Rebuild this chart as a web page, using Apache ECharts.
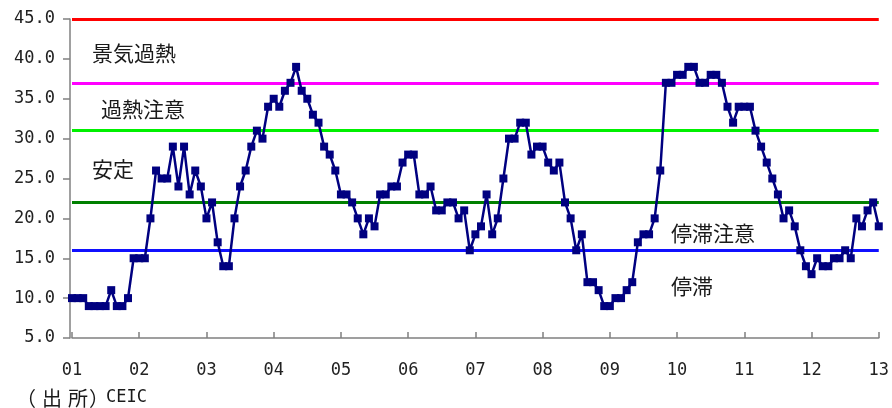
<!DOCTYPE html>
<html>
<head>
<meta charset="utf-8">
<script src="https://cdn.jsdelivr.net/npm/echarts@6/dist/echarts.min.js"></script>
<style>
  html, body { margin: 0; padding: 0; background: #ffffff; }
  #chart { width: 892px; height: 408px; }
</style>
</head>
<body>
<div id="chart"></div>
<script>
// Monthly index values, January of each year starts a new row
const y2001 = [10, 10, 10, 9, 9, 9, 9, 11, 9, 9, 10, 15];
const y2002 = [15, 15, 20, 26, 25, 25, 29, 24, 29, 23, 26, 24];
const y2003 = [20, 22, 17, 14, 14, 20, 24, 26, 29, 31, 30, 34];
const y2004 = [35, 34, 36, 37, 39, 36, 35, 33, 32, 29, 28, 26];
const y2005 = [23, 23, 22, 20, 18, 20, 19, 23, 23, 24, 24, 27];
const y2006 = [28, 28, 23, 23, 24, 21, 21, 22, 22, 20, 21, 16];
const y2007 = [18, 19, 23, 18, 20, 25, 30, 30, 32, 32, 28, 29];
const y2008 = [29, 27, 26, 27, 22, 20, 16, 18, 12, 12, 11, 9];
const y2009 = [9, 10, 10, 11, 12, 17, 18, 18, 20, 26, 37, 37];
const y2010 = [38, 38, 39, 39, 37, 37, 38, 38, 37, 34, 32, 34];
const y2011 = [34, 34, 31, 29, 27, 25, 23, 20, 21, 19, 16, 14];
const y2012 = [13, 15, 14, 14, 15, 15, 16, 15, 20, 19, 21, 22];
const y2013 = [19];

const yearLabels = ['01', '02', '03', '04', '05', '06', '07', '08', '09', '10', '11', '12', '13'];

// Threshold levels and zone names
const thresholdValues = [45, 37, 31, 22, 16];
const thresholdColors = ['#ff0000', '#ff00ff', '#00f000', '#008000', '#1010ff'];
const zoneNames = ['景気過熱', '過熱注意', '安定', '停滞注意', '停滞'];

const yMin = 5, yMax = 45, yStep = 5;

const values = [].concat(y2001, y2002, y2003, y2004, y2005, y2006, y2007,
                         y2008, y2009, y2010, y2011, y2012, y2013);
// one category per month; January carries the two-digit year label
const categories = values.map((v, i) => (i % 12 === 0 ? yearLabels[i / 12] : ''));

const monoFont = '"DejaVu Sans Mono", monospace';
const cjkFont = '"Noto Sans CJK JP", sans-serif';

const chart = echarts.init(document.getElementById('chart'), null, { renderer: 'canvas' });

const zonePos = [
  { left: 92, top: 43 },
  { left: 101, top: 99 },
  { left: 92, top: 159 },
  { left: 671, top: 223 },
  { left: 671, top: 276 }
];

chart.setOption({
  animation: false,
  backgroundColor: '#ffffff',
  grid: { left: 72, right: 12, top: 19, bottom: 70, containLabel: false },
  xAxis: {
    type: 'category',
    data: categories,
    boundaryGap: false,
    axisLine: { lineStyle: { color: '#808080', width: 1.5 } },
    axisTick: {
      inside: true, length: 6,
      interval: (i) => i % 12 === 0,
      lineStyle: { color: '#808080', width: 1.5 }
    },
    axisLabel: {
      interval: (i) => i % 12 === 0,
      margin: 24,
      color: '#222222',
      fontFamily: monoFont,
      fontSize: 17
    },
    splitLine: { show: false }
  },
  yAxis: {
    type: 'value',
    min: yMin, max: yMax, interval: yStep,
    offset: 2,
    axisLine: { show: true, lineStyle: { color: '#808080', width: 1.5 } },
    axisTick: { show: true, length: 7, lineStyle: { color: '#808080', width: 1.5 } },
    axisLabel: {
      margin: 15,
      color: '#222222',
      fontFamily: monoFont,
      fontSize: 17,
      formatter: (v) => v.toFixed(1)
    },
    splitLine: { show: false }
  },
  series: [
    {
      type: 'line',
      data: values,
      symbol: 'rect',
      symbolSize: 8,
      showSymbol: true,
      showAllSymbol: true,
      lineStyle: { color: '#000080', width: 2.5 },
      itemStyle: { color: '#000080', borderColor: '#000080', borderWidth: 0 },
      z: 5,
      markLine: {
        silent: true,
        symbol: 'none',
        label: { show: false },
        z: 1,
        data: thresholdValues.map((v, i) => ({
          yAxis: v,
          lineStyle: { color: thresholdColors[i], width: 3, type: 'solid' }
        }))
      }
    }
  ],
  graphic: zoneNames.map((name, i) => ({
    type: 'text',
    left: zonePos[i].left,
    top: zonePos[i].top,
    style: { text: name, fill: '#1a1a1a', font: '21px ' + cjkFont }
  })).concat([
    {
      type: 'text',
      left: 16,
      top: 388,
      style: {
        text: '{p1|（}{c1|出}{c2|所}{p2|）}{b|CEIC}',
        rich: {
          p1: { fontFamily: cjkFont, fontSize: 20, fill: '#1a1a1a', width: 28, align: 'center' },
          c1: { fontFamily: cjkFont, fontSize: 20, fill: '#1a1a1a', width: 24, align: 'center' },
          c2: { fontFamily: cjkFont, fontSize: 20, fill: '#1a1a1a', width: 28, align: 'center' },
          p2: { fontFamily: cjkFont, fontSize: 20, fill: '#1a1a1a', width: 14, align: 'left' },
          b: { fontFamily: monoFont, fontSize: 17, fill: '#1a1a1a' }
        }
      }
    }
  ])
});
</script>
</body>
</html>
